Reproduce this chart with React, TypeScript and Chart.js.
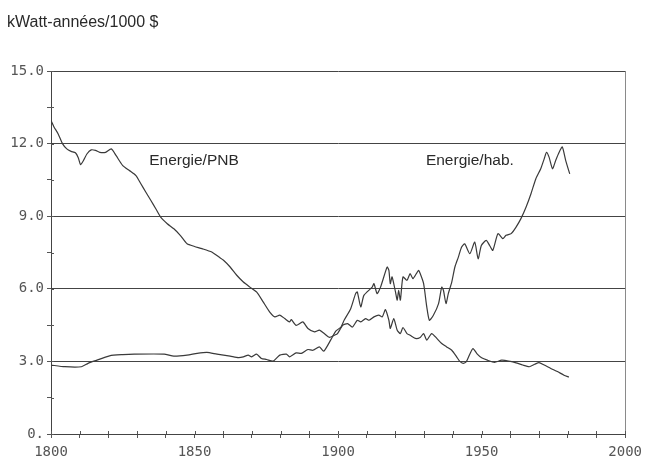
import React, { useEffect, useRef } from "react";
import { Chart, registerables } from "chart.js";

Chart.register(...registerables);

// ---- Data ----
const titleText = "kWatt-années/1000 $";

const pnbYears = [
  1800, 1801, 1802.5, 1804, 1805.5, 1807, 1808.5, 1809.5, 1810.3, 1811.3,
  1812.5, 1814, 1815.5, 1817, 1819, 1821, 1822.7, 1825, 1827.3, 1829.6,
  1831.3, 1833, 1834.8, 1836.5, 1838.2, 1840.5, 1842.8, 1845.1, 1847.4, 1850,
  1852.6, 1856, 1858.4, 1860.1, 1862.4, 1864.7, 1867, 1869.3, 1871.6, 1873.9,
  1876.2, 1878, 1879.7, 1881.4, 1883.1, 1883.7, 1885.4, 1887.7, 1889.5, 1891.8,
  1893.5, 1895.2, 1897, 1898.7, 1899.8, 1901.6, 1903.3, 1905, 1906.7, 1907.9,
  1909.6, 1910.8, 1912.5, 1914.2, 1915.4, 1916.5, 1917.7, 1918.2, 1919.4, 1920.6,
  1921.7, 1922.6, 1924, 1925.1, 1926.9, 1928.6, 1929.8, 1930.9, 1932.6, 1934.4,
  1936.1, 1937.8, 1939.6, 1941.3, 1942.4, 1943.6, 1944.7, 1946, 1947, 1948.5,
  1950, 1952, 1954.5, 1957, 1960, 1962, 1964.3, 1966.6, 1968.5, 1970,
  1971.8, 1974.1, 1976.4, 1978.7, 1980.4,
];
const pnbValues = [
  12.95, 12.7, 12.4, 12.0, 11.78, 11.68, 11.62, 11.42, 11.13, 11.3,
  11.57, 11.74, 11.72, 11.64, 11.64, 11.78, 11.5, 11.09, 10.89, 10.68,
  10.34, 10.0, 9.65, 9.31, 8.96, 8.69, 8.48, 8.2, 7.86, 7.75,
  7.66, 7.52, 7.32, 7.18, 6.9, 6.56, 6.28, 6.07, 5.87, 5.46,
  5.04, 4.84, 4.91, 4.77, 4.63, 4.73, 4.49, 4.63, 4.36, 4.22,
  4.29, 4.15, 3.99, 4.08, 4.15, 4.49, 4.56, 4.42, 4.7, 4.63,
  4.77, 4.7, 4.84, 4.91, 4.84, 5.14, 4.7, 4.36, 4.77, 4.29,
  4.15, 4.4, 4.15, 4.08, 3.95, 3.99, 4.15, 3.88, 4.15, 3.95,
  3.74, 3.6, 3.46, 3.19, 3.0, 2.92, 2.99, 3.33, 3.53, 3.3,
  3.15, 3.05, 2.96, 3.05, 3.0, 2.94, 2.85, 2.78, 2.88, 2.95,
  2.85, 2.71, 2.58, 2.43, 2.35,
];

const habYears = [
  1800, 1804.8, 1810.6, 1812.9, 1815.2, 1820.4, 1825, 1829, 1839.4, 1842.8,
  1847.4, 1850.9, 1854.3, 1857.8, 1862.4, 1865.3, 1867, 1868.7, 1869.9, 1871.6,
  1873.3, 1875.1, 1877.4, 1879.7, 1882, 1883.1, 1885.4, 1887.2, 1889.5, 1891.2,
  1893.5, 1895, 1897.5, 1899.2, 1901, 1902.1, 1904.4, 1906.1, 1906.7, 1907.9,
  1909, 1911.9, 1912.5, 1913.6, 1914.8, 1917.1, 1917.7, 1918.2, 1918.8, 1920,
  1920.6, 1921.1, 1921.7, 1922.6, 1924, 1925.1, 1926.1, 1928, 1928.6, 1929.8,
  1930.9, 1931.8, 1933.2, 1935, 1936.1, 1936.7, 1937.6, 1938.4, 1939.6, 1940.7,
  1941.9, 1943, 1944.1, 1945.9, 1947.6, 1948.8, 1949.9, 1951.6, 1952.8, 1953.9,
  1955.7, 1957.4, 1958.5, 1960.3, 1962, 1963.7, 1965.5, 1967.2, 1968.9, 1970.6,
  1971.8, 1972.6, 1973.5, 1974.7, 1975.8, 1977, 1978.1, 1979.3, 1980.7,
];
const habValues = [
  2.85, 2.78, 2.78, 2.92, 3.02, 3.23, 3.28, 3.3, 3.3, 3.22,
  3.26, 3.33, 3.37, 3.3, 3.22, 3.16, 3.19, 3.26, 3.19, 3.3,
  3.12, 3.08, 3.01, 3.26, 3.3, 3.19, 3.35, 3.33, 3.49, 3.46,
  3.6, 3.42, 3.9, 4.25, 4.42, 4.7, 5.18, 5.8, 5.87, 5.25,
  5.73, 6.07, 6.21, 5.8, 6.07, 6.9, 6.76, 6.21, 6.49, 5.87,
  5.53, 5.94, 5.53, 6.49, 6.35, 6.63, 6.42, 6.76, 6.63, 6.21,
  5.25, 4.7, 4.91, 5.39, 6.07, 5.94, 5.39, 5.8, 6.28, 6.9,
  7.31, 7.72, 7.86, 7.45, 7.93, 7.24, 7.79, 8.0, 7.79, 7.59,
  8.28, 8.07, 8.21, 8.28, 8.55, 8.9, 9.38, 9.93, 10.55, 10.96,
  11.37, 11.64, 11.44, 10.96, 11.3, 11.64, 11.86, 11.3, 10.75,
];

const xLabelYears = [1800, 1850, 1900, 1950, 2000];
const xTickLabels = ["1800", "1850", "1900", "1950", "2000"];
const yLabelValues = [0, 3, 6, 9, 12, 15];
const yTickLabels = ["0.", "3.0", "6.0", "9.0", "12.0", "15.0"];

const seriesLabels = ["Energie/PNB", "Energie/hab."];
const seriesLabelYears = [1834.2, 1930.6];
const seriesLabelValues = [11.3, 11.3];

const isMultiple = (v: number, m: number) =>
  Math.abs(v / m - Math.round(v / m)) < 1e-6;

const textPlugin = {
  id: "textsAndInnerTicks",
  afterDraw(chart: any) {
    const { ctx } = chart;
    const x = chart.scales.x;
    const y = chart.scales.y;
    ctx.save();
    ctx.fillStyle = "#2a2a2a";
    ctx.textBaseline = "middle";
    ctx.textAlign = "left";
    ctx.font = '16px "Liberation Sans", Arial, sans-serif';
    ctx.fillText(titleText, 7, 23);
    ctx.font = '15.5px "Liberation Sans", Arial, sans-serif';
    seriesLabels.forEach((t, i) => {
      ctx.fillText(
        t,
        x.getPixelForValue(seriesLabelYears[i]),
        y.getPixelForValue(seriesLabelValues[i])
      );
    });
    ctx.strokeStyle = "#555";
    ctx.lineWidth = 1;
    x.ticks.forEach((t: any) => {
      const px = Math.round(x.getPixelForValue(t.value)) + 0.5;
      ctx.beginPath();
      ctx.moveTo(px, y.bottom);
      ctx.lineTo(px, y.bottom - 3);
      ctx.stroke();
    });
    y.ticks.forEach((t: any) => {
      const py = Math.round(y.getPixelForValue(t.value)) + 0.5;
      ctx.beginPath();
      ctx.moveTo(x.left, py);
      ctx.lineTo(x.left + 3, py);
      ctx.stroke();
    });
    ctx.restore();
  },
};

export default function App() {
  const canvasRef = useRef<HTMLCanvasElement | null>(null);

  useEffect(() => {
    if (!canvasRef.current) return;
    const lineColor = "#3a3a3a";
    const chart = new Chart(canvasRef.current, {
      type: "line",
      data: {
        datasets: [
          {
            label: seriesLabels[0],
            data: pnbYears.map((yr, i) => ({ x: yr, y: pnbValues[i] })),
            borderColor: lineColor,
            borderWidth: 1.2,
            pointRadius: 0,
            tension: 0.2,
            fill: false,
          },
          {
            label: seriesLabels[1],
            data: habYears.map((yr, i) => ({ x: yr, y: habValues[i] })),
            borderColor: lineColor,
            borderWidth: 1.2,
            pointRadius: 0,
            tension: 0.2,
            fill: false,
          },
        ],
      },
      options: {
        responsive: false,
        animation: false,
        layout: { padding: { top: 71, right: 18, left: 0, bottom: 0 } },
        plugins: {
          legend: { display: false },
          tooltip: { enabled: false },
          title: { display: false },
        },
        scales: {
          x: {
            type: "linear",
            min: 1800,
            max: 2000,
            afterFit: (s: any) => {
              s.height = 32;
            },
            ticks: {
              stepSize: 10,
              autoSkip: false,
              maxRotation: 0,
              padding: 6,
              color: "#555",
              font: { family: '"DejaVu Sans Mono", monospace', size: 14 },
              callback: (v: any) => {
                const idx = xLabelYears.findIndex((yv) => Math.abs(yv - Number(v)) < 1e-6);
                return idx >= 0 ? xTickLabels[idx] : "";
              },
            },
            grid: {
              drawOnChartArea: true,
              color: (c: any) =>
                c.tick && Math.abs(c.tick.value - 2000) < 1e-6 ? "#8a8a8a" : "rgba(0,0,0,0)",
              tickColor: "#555",
              tickLength: 4,
              lineWidth: 1,
            },
            border: { display: true, color: "#444", width: 1 },
          },
          y: {
            type: "linear",
            min: 0,
            max: 15,
            afterFit: (s: any) => {
              s.width = 51;
            },
            ticks: {
              stepSize: 1.5,
              autoSkip: false,
              padding: 3,
              color: "#555",
              font: { family: '"DejaVu Sans Mono", monospace', size: 14 },
              callback: (v: any) => {
                const idx = yLabelValues.findIndex((yv) => Math.abs(yv - Number(v)) < 1e-6);
                return idx >= 0 ? yTickLabels[idx] : "";
              },
            },
            grid: {
              drawOnChartArea: true,
              color: (c: any) =>
                c.tick && isMultiple(c.tick.value, 3) && c.tick.value > 0
                  ? "#444"
                  : "rgba(0,0,0,0)",
              tickColor: "#555",
              tickLength: 4,
              lineWidth: 1,
            },
            border: { display: true, color: "#444", width: 1 },
          },
        },
      },
      plugins: [textPlugin],
    });
    return () => chart.destroy();
  }, []);

  return (
    <div style={{ position: "absolute", left: 0, top: 0, width: 648, height: 466, background: "#fff" }}>
      <canvas ref={canvasRef} width={648} height={466} style={{ display: "block" }} />
    </div>
  );
}
